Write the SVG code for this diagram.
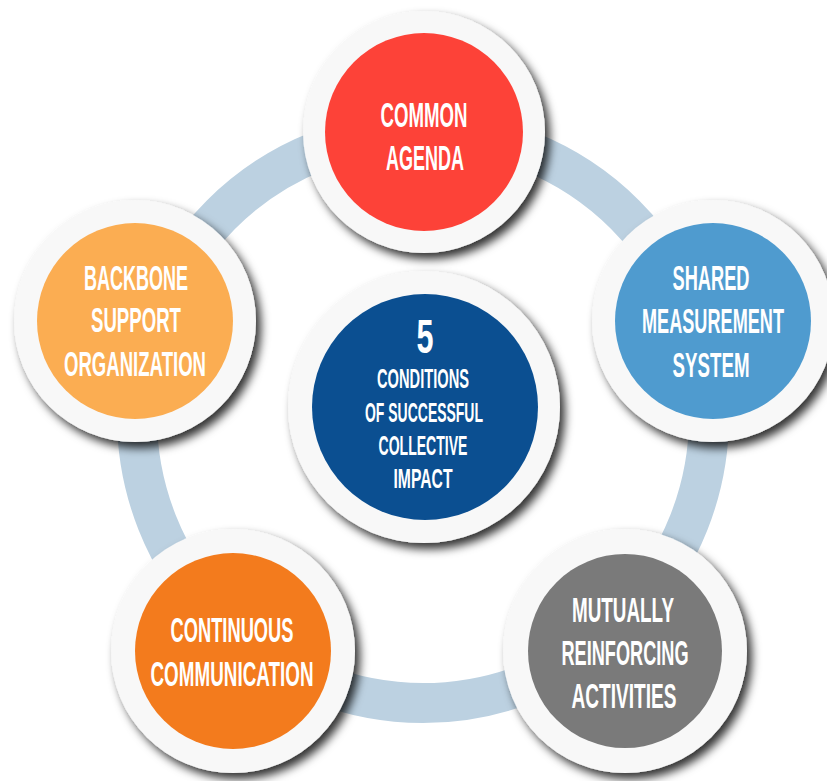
<svg xmlns="http://www.w3.org/2000/svg" width="827" height="781" viewBox="0 0 827 781">
  <defs>
    <filter id="shadow" x="-30%" y="-30%" width="160%" height="160%">
      <feDropShadow dx="5" dy="6" stdDeviation="5" flood-color="#000" flood-opacity="0.8"/>
    </filter>
  </defs>
  <style>
    .rim { fill: #f8f8f8; filter: url(#shadow); }
    .lbl { font-family: "Liberation Sans", Arial, sans-serif; font-weight: bold; fill: #ffffff; text-anchor: middle; }
    .big { font-size: 35px; }
    .mid { font-size: 28px; }
  </style>
  <rect width="827" height="781" fill="#ffffff"/>

  <g id="connectors">
    <circle cx="423" cy="417" r="286" fill="none" stroke="#bcd1e1" stroke-width="40"/>
  </g>

  <g id="common-agenda">
    <circle class="rim" cx="424" cy="132" r="121"/>
    <circle cx="424" cy="132" r="99" fill="#fd4238"/>
    <text class="lbl big" x="424" y="127" textLength="87" lengthAdjust="spacingAndGlyphs">COMMON</text>
    <text class="lbl big" x="425" y="170" textLength="78" lengthAdjust="spacingAndGlyphs">AGENDA</text>
  </g>

  <g id="shared-measurement">
    <circle class="rim" cx="713" cy="321" r="121"/>
    <circle cx="713" cy="321" r="98" fill="#4f9bcf"/>
    <text class="lbl big" x="711" y="290" textLength="77" lengthAdjust="spacingAndGlyphs">SHARED</text>
    <text class="lbl big" x="713" y="333" textLength="142" lengthAdjust="spacingAndGlyphs">MEASUREMENT</text>
    <text class="lbl big" x="711" y="377" textLength="77" lengthAdjust="spacingAndGlyphs">SYSTEM</text>
  </g>

  <g id="mutually-reinforcing">
    <circle class="rim" cx="625" cy="651" r="122"/>
    <circle cx="625" cy="651" r="97" fill="#7a7a7a"/>
    <text class="lbl big" x="623" y="622" textLength="102" lengthAdjust="spacingAndGlyphs">MUTUALLY</text>
    <text class="lbl big" x="625" y="665" textLength="127" lengthAdjust="spacingAndGlyphs">REINFORCING</text>
    <text class="lbl big" x="624" y="708" textLength="105" lengthAdjust="spacingAndGlyphs">ACTIVITIES</text>
  </g>

  <g id="continuous-communication">
    <circle class="rim" cx="233" cy="651" r="122"/>
    <circle cx="233" cy="651" r="98" fill="#f37b1d"/>
    <text class="lbl big" x="232" y="642" textLength="123" lengthAdjust="spacingAndGlyphs">CONTINUOUS</text>
    <text class="lbl big" x="232" y="686" textLength="163" lengthAdjust="spacingAndGlyphs">COMMUNICATION</text>
  </g>

  <g id="backbone-support">
    <circle class="rim" cx="135" cy="321" r="121"/>
    <circle cx="135" cy="321" r="98" fill="#fbad52"/>
    <text class="lbl big" x="136" y="290" textLength="104" lengthAdjust="spacingAndGlyphs">BACKBONE</text>
    <text class="lbl big" x="136" y="332" textLength="90" lengthAdjust="spacingAndGlyphs">SUPPORT</text>
    <text class="lbl big" x="135" y="376" textLength="142" lengthAdjust="spacingAndGlyphs">ORGANIZATION</text>
  </g>

  <g id="center">
    <circle class="rim" cx="424" cy="407" r="136"/>
    <circle cx="425" cy="407" r="113" fill="#0b4f91"/>
    <text class="lbl" x="425" y="353" font-size="49" textLength="17" lengthAdjust="spacingAndGlyphs">5</text>
    <text class="lbl mid" x="423" y="388" textLength="92" lengthAdjust="spacingAndGlyphs">CONDITIONS</text>
    <text class="lbl mid" x="424" y="422" textLength="118" lengthAdjust="spacingAndGlyphs">OF SUCCESSFUL</text>
    <text class="lbl mid" x="423" y="455" textLength="89" lengthAdjust="spacingAndGlyphs">COLLECTIVE</text>
    <text class="lbl mid" x="423" y="488" textLength="59" lengthAdjust="spacingAndGlyphs">IMPACT</text>
  </g>
</svg>
